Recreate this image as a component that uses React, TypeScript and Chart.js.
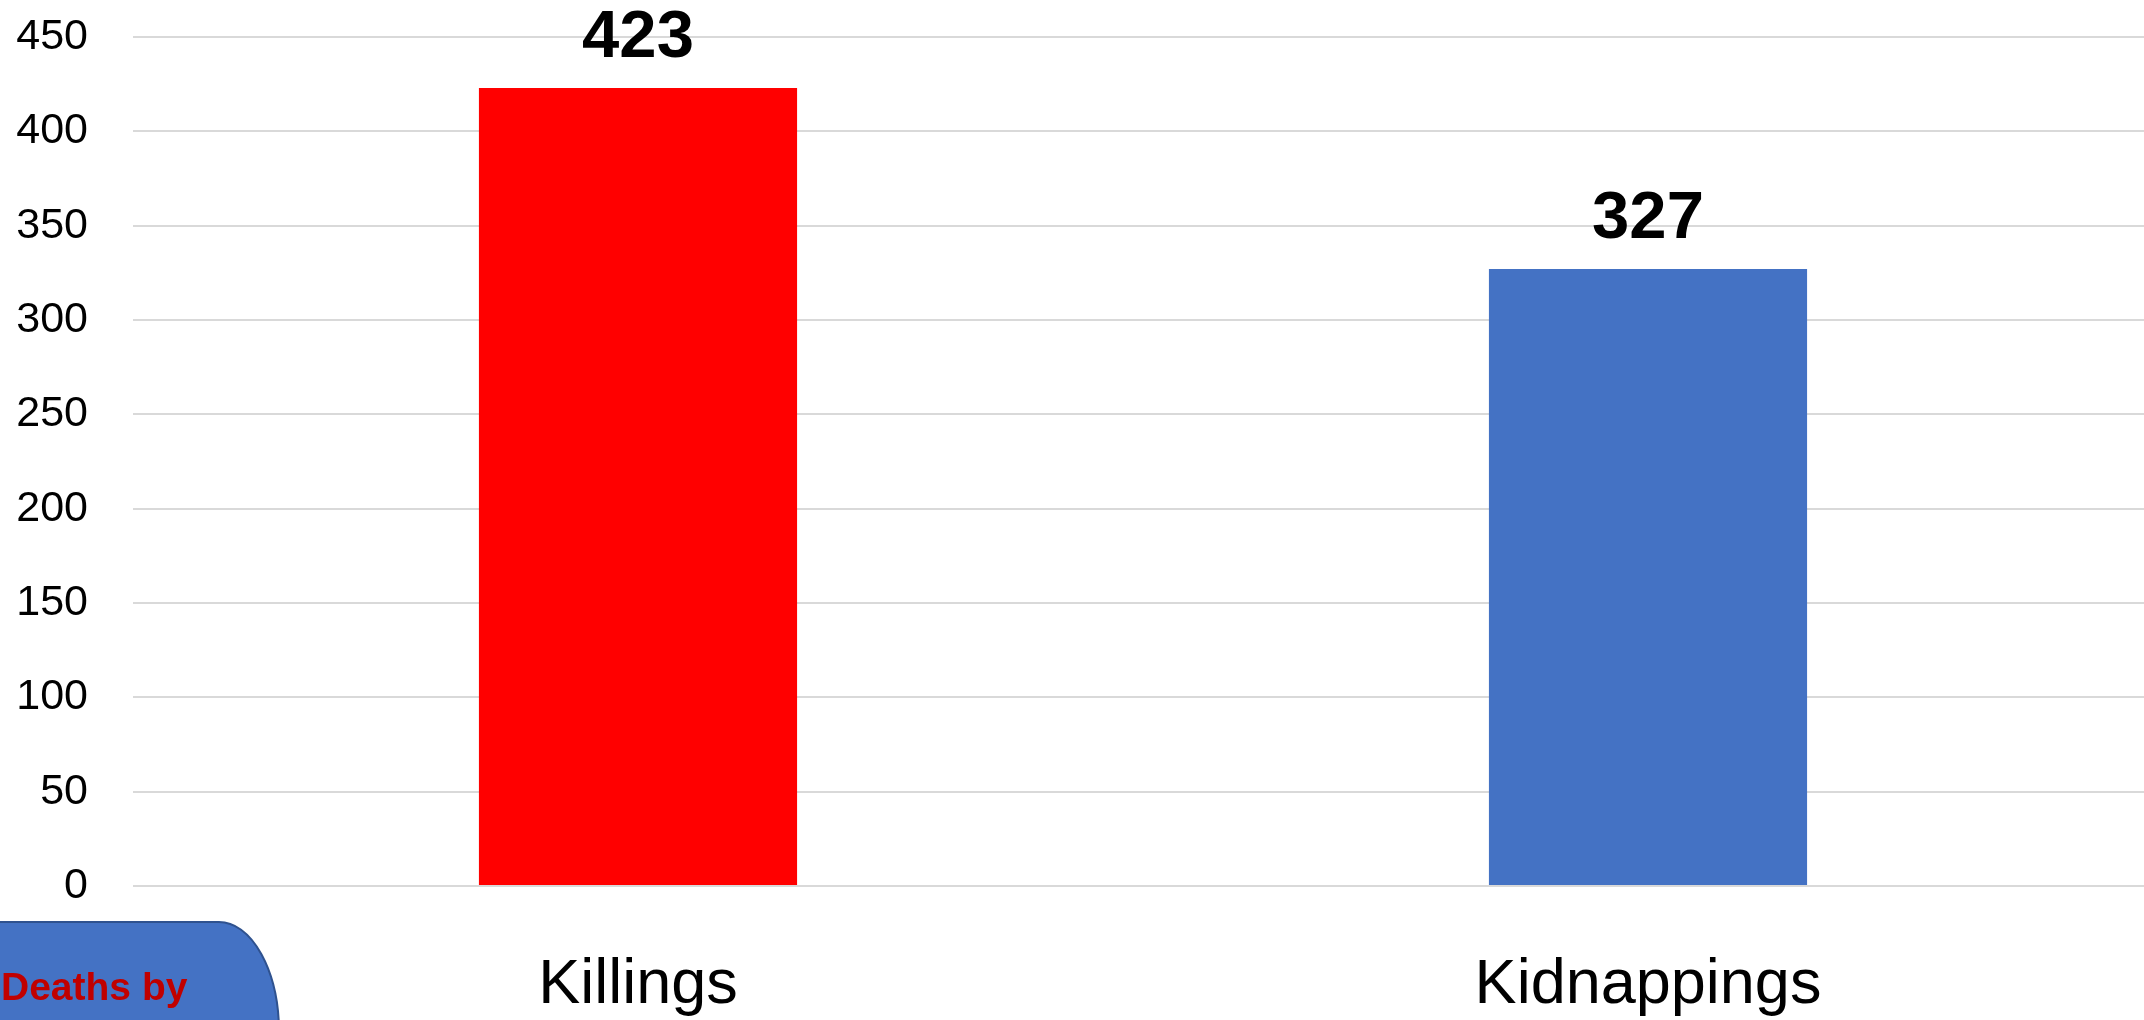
import React, { useEffect, useRef } from "react";
import { Chart, registerables } from "chart.js";

Chart.register(...registerables);

const categories = ["Killings", "Kidnappings"];
const values = [423, 327];
const barColors = ["#FF0000", "#4472C4"];
const yTicksMax = 450;
const yTicksStep = 50;
const calloutText = "Deaths by";

const FONT = "'Liberation Sans', Arial, sans-serif";

const valueLabelPlugin = {
  id: "valueLabels",
  afterDatasetsDraw(chart: any) {
    const ctx = chart.ctx;
    const meta = chart.getDatasetMeta(0);
    ctx.save();
    ctx.font = `bold 67px ${FONT}`;
    ctx.fillStyle = "#000000";
    ctx.textAlign = "center";
    ctx.textBaseline = "alphabetic";
    meta.data.forEach((bar: any, i: number) => {
      ctx.fillText(String(values[i]), bar.x, bar.y - 31);
    });
    ctx.restore();
  },
};

const calloutPlugin = {
  id: "callout",
  afterDraw(chart: any) {
    const ctx = chart.ctx;
    const bottom = 1032;
    const top = 922;
    ctx.save();
    ctx.beginPath();
    ctx.moveTo(-4, top);
    ctx.lineTo(219, top);
    ctx.ellipse(219, bottom, 60, bottom - top, 0, -Math.PI / 2, 0, false);
    ctx.lineTo(-4, bottom);
    ctx.closePath();
    ctx.fillStyle = "#4472C4";
    ctx.fill();
    ctx.lineWidth = 2;
    ctx.strokeStyle = "#2F528F";
    ctx.stroke();
    ctx.font = `bold 39px ${FONT}`;
    ctx.fillStyle = "#C00000";
    ctx.textAlign = "left";
    ctx.textBaseline = "alphabetic";
    ctx.fillText(calloutText, 1, 1000);
    ctx.restore();
  },
};

export default function App() {
  const canvasRef = useRef<HTMLCanvasElement | null>(null);

  useEffect(() => {
    document.body.style.margin = "0";
    document.body.style.overflow = "hidden";
    document.documentElement.style.overflow = "hidden";
    const canvas = canvasRef.current;
    if (!canvas) return;
    const chart = new Chart(canvas, {
      type: "bar",
      data: {
        labels: categories,
        datasets: [
          {
            data: values,
            backgroundColor: barColors,
            borderWidth: 0,
            barPercentage: 0.315,
            categoryPercentage: 1,
          },
        ],
      },
      options: {
        animation: false,
        responsive: true,
        maintainAspectRatio: false,
        devicePixelRatio: 1,
        layout: { padding: { top: 37, left: 0, right: 0, bottom: 0 } },
        plugins: {
          legend: { display: false },
          tooltip: { enabled: false },
          title: { display: false },
        },
        scales: {
          x: {
            grid: { display: false, drawTicks: false },
            border: { display: false },
            ticks: {
              color: "#000000",
              font: { family: FONT, size: 63 },
              padding: 62,
              maxRotation: 0,
              autoSkip: false,
            },
            afterFit(scale: any) {
              scale.height = 134;
            },
          },
          y: {
            min: 0,
            max: yTicksMax,
            grid: {
              color: "#D9D9D9",
              lineWidth: 2,
              drawTicks: true,
              tickLength: 45,
              tickColor: "rgba(0,0,0,0)",
            },
            border: { display: false },
            ticks: {
              stepSize: yTicksStep,
              color: "#000000",
              font: { family: FONT, size: 43 },
              padding: 0,
            },
            afterFit(scale: any) {
              scale.width = 133;
            },
          },
        },
      },
      plugins: [valueLabelPlugin, calloutPlugin],
    });
    return () => chart.destroy();
  }, []);

  return (
    <div style={{ position: "fixed", left: 0, top: 0, width: "2153px", height: "1020px", background: "#ffffff" }}>
      <canvas ref={canvasRef} />
    </div>
  );
}
